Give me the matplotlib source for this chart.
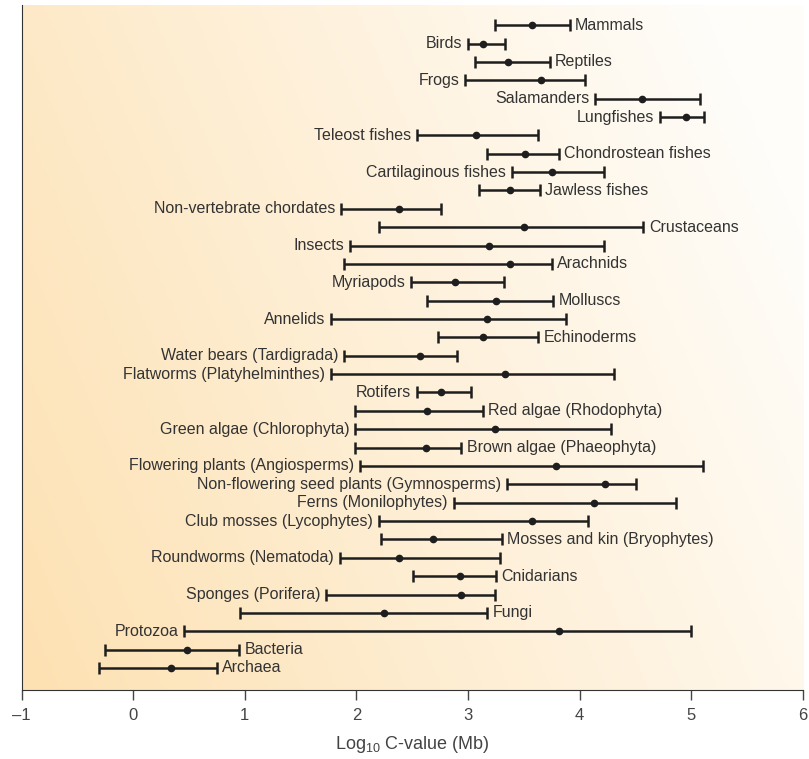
import numpy as np
import matplotlib
matplotlib.use("Agg")
import matplotlib.pyplot as plt
from matplotlib.colors import LinearSegmentedColormap

plt.rcParams['font.family'] = ['Liberation Sans', 'DejaVu Sans']
plt.rcParams['mathtext.default'] = 'regular'

# groups, top to bottom
groups = [
    "Mammals", "Birds", "Reptiles", "Frogs", "Salamanders", "Lungfishes",
    "Teleost fishes", "Chondrostean fishes", "Cartilaginous fishes", "Jawless fishes",
    "Non-vertebrate chordates", "Crustaceans", "Insects", "Arachnids", "Myriapods",
    "Molluscs", "Annelids", "Echinoderms", "Water bears (Tardigrada)",
    "Flatworms (Platyhelminthes)", "Rotifers", "Red algae (Rhodophyta)",
    "Green algae (Chlorophyta)", "Brown algae (Phaeophyta)",
    "Flowering plants (Angiosperms)", "Non-flowering seed plants (Gymnosperms)",
    "Ferns (Monilophytes)", "Club mosses (Lycophytes)", "Mosses and kin (Bryophytes)",
    "Roundworms (Nematoda)", "Cnidarians", "Sponges (Porifera)", "Fungi",
    "Protozoa", "Bacteria", "Archaea",
]

# log10 C-value (Mb): minimum, mean, maximum
low = [3.24, 3.00, 3.06, 2.97, 4.14, 4.72, 2.54, 3.17, 3.39, 3.10,
       1.86, 2.20, 1.94, 1.89, 2.49, 2.63, 1.77, 2.73, 1.89, 1.77,
       2.54, 1.99, 1.99, 1.99, 2.03, 3.35, 2.87, 2.20, 2.22, 1.85,
       2.51, 1.73, 0.96, 0.46, -0.25, -0.31]
mean = [3.57, 3.13, 3.36, 3.65, 4.56, 4.95, 3.07, 3.51, 3.75, 3.38,
        2.38, 3.50, 3.19, 3.38, 2.88, 3.25, 3.17, 3.13, 2.57, 3.33,
        2.76, 2.63, 3.24, 2.62, 3.79, 4.23, 4.13, 3.57, 2.69, 2.38,
        2.93, 2.94, 2.25, 3.81, 0.48, 0.34]
high = [3.91, 3.33, 3.73, 4.05, 5.08, 5.11, 3.63, 3.81, 4.22, 3.64,
        2.76, 4.57, 4.22, 3.75, 3.32, 3.76, 3.88, 3.63, 2.90, 4.31,
        3.03, 3.13, 4.28, 2.94, 5.10, 4.50, 4.86, 4.07, 3.30, 3.29,
        3.25, 3.24, 3.17, 5.00, 0.95, 0.75]

# which side the label sits on
side = ["R", "L", "R", "L", "L", "L", "L", "R", "L", "R",
        "L", "R", "L", "R", "L", "R", "L", "R", "L", "L",
        "L", "R", "L", "R", "L", "L", "L", "L", "R", "L",
        "R", "L", "R", "L", "R", "R"]

low = np.array(low)
mean = np.array(mean)
high = np.array(high)
y = np.arange(len(groups))

fig = plt.figure(figsize=(8.09, 7.59), dpi=100)
ax = fig.add_axes([21.5 / 809, 69 / 759, 781.5 / 809, 685 / 759])

# warm gradient background
cmap = LinearSegmentedColormap.from_list("warm", ["#fde1b2", "#feefd6", "#fffdf9"])
gx, gy = np.meshgrid(np.linspace(0, 1, 300), np.linspace(0, 1, 300))
grad = np.clip(0.8 * gx + 0.3 * (1 - gy), 0, 1)
ax.imshow(grad, extent=[-1, 6, 36.2, -1.1], cmap=cmap, aspect='auto',
          origin='upper', zorder=0, interpolation='bilinear')

ax.errorbar(mean, y, xerr=[mean - low, high - mean], fmt='o', color='#1e1e1e',
            ecolor='#1e1e1e', elinewidth=1.8, capsize=4.5, capthick=1.8,
            markersize=4.5, zorder=3)

for i, name in enumerate(groups):
    if side[i] == "R":
        ax.text(high[i] + 0.05, y[i], name, ha='left', va='center',
                fontsize=11.5, color='#333333', zorder=4)
    else:
        ax.text(low[i] - 0.05, y[i], name, ha='right', va='center',
                fontsize=11.5, color='#333333', zorder=4)

ax.set_xlim(-1, 6)
ax.set_ylim(36.2, -1.1)
ax.set_xticks(range(-1, 7))
ax.set_xticklabels(["\u20131", "0", "1", "2", "3", "4", "5", "6"])
ax.set_yticks([])
ax.tick_params(axis='x', length=7, width=1, color='#444444', labelsize=12,
               labelcolor='#444444', pad=6)
ax.spines['top'].set_visible(False)
ax.spines['right'].set_visible(False)
ax.spines['left'].set_color('#333333')
ax.spines['bottom'].set_color('#333333')
ax.set_xlabel("Log$_{10}$ C-value (Mb)", fontsize=13, color='#444444', labelpad=8)

fig.savefig("out.png", dpi=100)
